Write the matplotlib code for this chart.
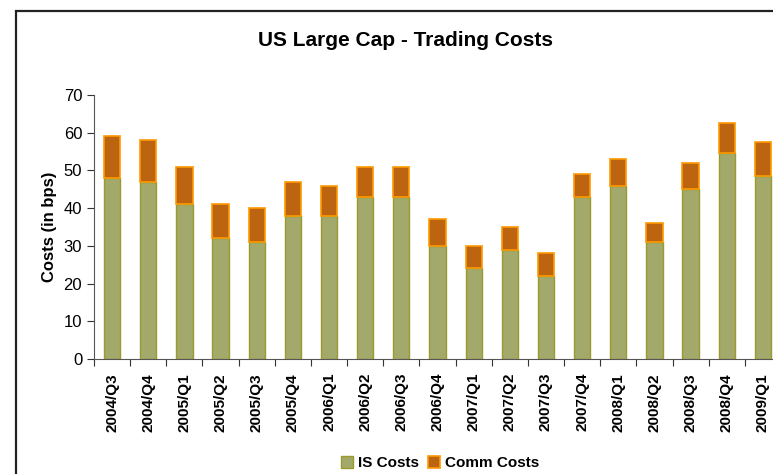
import matplotlib
matplotlib.use("Agg")
import matplotlib.pyplot as plt
import numpy as np
from matplotlib.patches import Rectangle

# Çeyrek etiketleri ve maliyetler (bps)
quarters = ["2004/Q3", "2004/Q4", "2005/Q1", "2005/Q2", "2005/Q3", "2005/Q4",
            "2006/Q1", "2006/Q2", "2006/Q3", "2006/Q4", "2007/Q1", "2007/Q2",
            "2007/Q3", "2007/Q4", "2008/Q1", "2008/Q2", "2008/Q3", "2008/Q4",
            "2009/Q1"]
is_costs = [48, 47, 41, 32, 31, 38, 38, 43, 43, 30, 24, 29, 22, 43, 46, 31, 45, 54.5, 48.6]
comm_costs = [11, 11, 10, 9, 9, 9, 8, 8, 8, 7, 6, 6, 6, 6, 7, 5, 7, 8, 9]

plt.rcParams['font.family'] = ['Liberation Sans', 'DejaVu Sans']

fig = plt.figure(figsize=(7.73, 4.74), dpi=100)

# Dış çerçeve (sağ ve alt kenar kesik)
fig.patches.append(Rectangle((16 / 773, -0.1), 1.2, 1 - 11 / 474 + 0.1,
                             transform=fig.transFigure, fill=False,
                             edgecolor='#222222', linewidth=1.6))

ax = fig.add_axes([94 / 773, (474 - 359) / 474, 687 / 773, 264 / 474])
x = np.arange(len(quarters))
w = 0.45
ax.bar(x, is_costs, width=w, color='#A3A96B', edgecolor='#9C9A2E', linewidth=1, label='IS Costs')
ax.bar(x, comm_costs, width=w, bottom=is_costs, color='#BC6410', edgecolor='#FF9900',
       linewidth=1.2, label='Comm Costs')

ax.set_xlim(-0.5, len(quarters) - 0.5)
ax.set_ylim(0, 70)
ax.set_yticks(range(0, 71, 10))
ax.tick_params(axis='y', labelsize=12, length=5, color='#333333')

# x tikleri kategoriler arasında, etiketler ortada
ax.set_xticks(np.arange(-0.5, len(quarters), 1))
ax.set_xticklabels([])
ax.set_xticks(x, minor=True)
ax.set_xticklabels(quarters, minor=True, rotation=90, fontweight='bold', fontsize=11)
ax.tick_params(axis='x', which='major', length=5, color='#333333')
ax.tick_params(axis='x', which='minor', length=0, pad=10)

for s in ['top', 'right']:
    ax.spines[s].set_visible(False)
for s in ['left', 'bottom']:
    ax.spines[s].set_color('#555555')

ax.set_ylabel('Costs (in bps)', fontweight='bold', fontsize=12, labelpad=5)

fig.text(405 / 773, 1 - 40 / 474, 'US Large Cap - Trading Costs', ha='center', va='center',
         fontsize=15, fontweight='bold')

fig.legend(loc='center', bbox_to_anchor=(440 / 773, 1 - 463 / 474), ncol=2, frameon=False,
           prop={'weight': 'bold', 'size': 11}, handlelength=0.8, handleheight=0.8,
           handletextpad=0.3, columnspacing=0.6)

plt.savefig('out.png', dpi=100)
